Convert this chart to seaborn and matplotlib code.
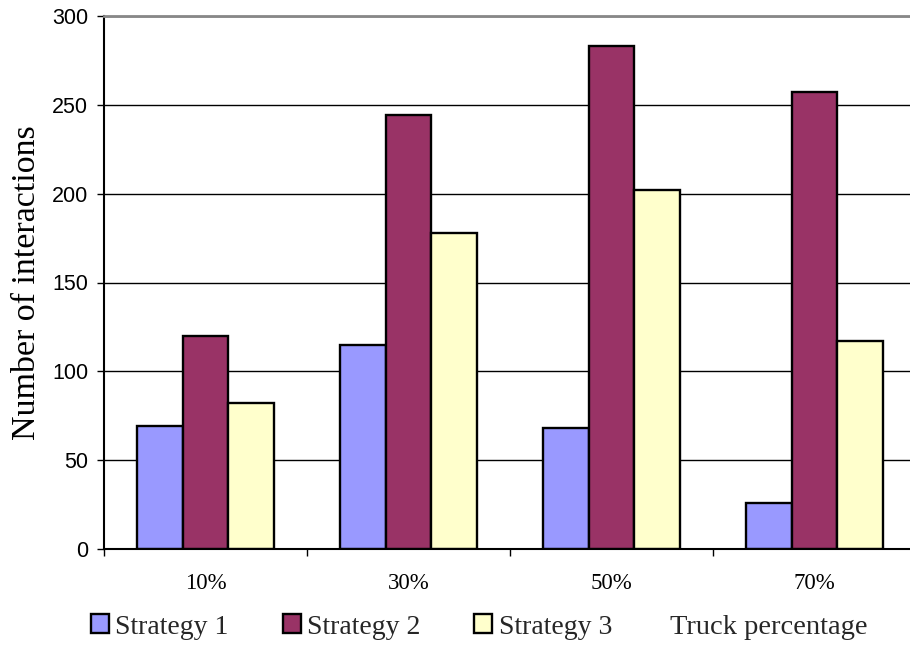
import matplotlib
matplotlib.use("Agg")
import matplotlib.pyplot as plt
import seaborn as sns
import pandas as pd
from matplotlib.patches import Patch

categories = ["10%", "30%", "50%", "70%"]
strategy1 = [69, 115, 68, 26]
strategy2 = [120, 244, 283, 257]
strategy3 = [82, 178, 202, 117]
series_names = ["Strategy 1", "Strategy 2", "Strategy 3"]
colors = ["#9999FF", "#993366", "#FFFFCC"]
y_ticks = [0, 50, 100, 150, 200, 250, 300]

rows = []
for name, vals in zip(series_names, [strategy1, strategy2, strategy3]):
    for c, v in zip(categories, vals):
        rows.append({"cat": c, "series": name, "value": v})
df = pd.DataFrame(rows)

sns.set_theme(style="white")
plt.rcParams["font.family"] = ["Liberation Serif", "DejaVu Serif"]
plt.rcParams["ytick.labelsize"] = 15.5
plt.rcParams["xtick.labelsize"] = 16.5

fig = plt.figure(figsize=(9.10, 6.46), dpi=100)
ax = fig.add_axes([104 / 910, 1 - 549 / 646, (916 - 104) / 910, (549 - 16) / 646])

sns.barplot(data=df, x="cat", y="value", hue="series", order=categories,
            hue_order=series_names, palette=colors, width=0.67,
            edgecolor="black", linewidth=1.7, saturation=1, ax=ax, legend=False)

ax.set_xlim(-0.5, 3.5)
ax.set_ylim(0, 300)
ax.set_yticks(y_ticks)
ax.set_yticklabels([str(v) for v in y_ticks])
ax.set_axisbelow(True)
ax.yaxis.grid(True, color="black", linewidth=1)
ax.xaxis.grid(False)

ax.tick_params(axis="y", which="major", direction="out", length=5, width=1,
               color="black", pad=6.5, left=True, labelcolor="black")

ax.set_xticks(range(len(categories)))
ax.set_xticklabels(categories)
ax.set_xticks([-0.5, 0.5, 1.5, 2.5, 3.5], minor=True)
ax.tick_params(axis="x", which="major", length=0, pad=17, labelcolor="black")
ax.tick_params(axis="x", which="minor", direction="out", length=5, width=1,
               color="black", bottom=True)

plt.setp(ax.get_yticklabels(), fontsize=15.5, fontfamily=["Liberation Sans", "DejaVu Sans"])
plt.setp(ax.get_xticklabels(), fontsize=16.5)

ax.set_xlabel("")
ax.set_ylabel("Number of interactions", fontsize=24.5, labelpad=7, color="black")

for s in ["left", "bottom"]:
    ax.spines[s].set_color("black")
    ax.spines[s].set_linewidth(1.5)
ax.spines["top"].set_color("#888888")
ax.spines["top"].set_linewidth(2)
ax.spines["right"].set_visible(False)

handles = [Patch(facecolor=c, edgecolor="black", linewidth=1.7, label=n)
           for c, n in zip(colors, series_names)]
fig.legend(handles=handles, loc="center left", bbox_to_anchor=(91 / 910, 1 - 627 / 646),
           ncol=3, frameon=False, fontsize=20, handlelength=0.65, handleheight=0.65,
           handletextpad=0.22, columnspacing=1.95, borderpad=0, borderaxespad=0)
fig.text(670 / 910, 1 - 627 / 646, "Truck percentage", fontsize=20.5,
         ha="left", va="center")

fig.savefig("out.png", dpi=100)
